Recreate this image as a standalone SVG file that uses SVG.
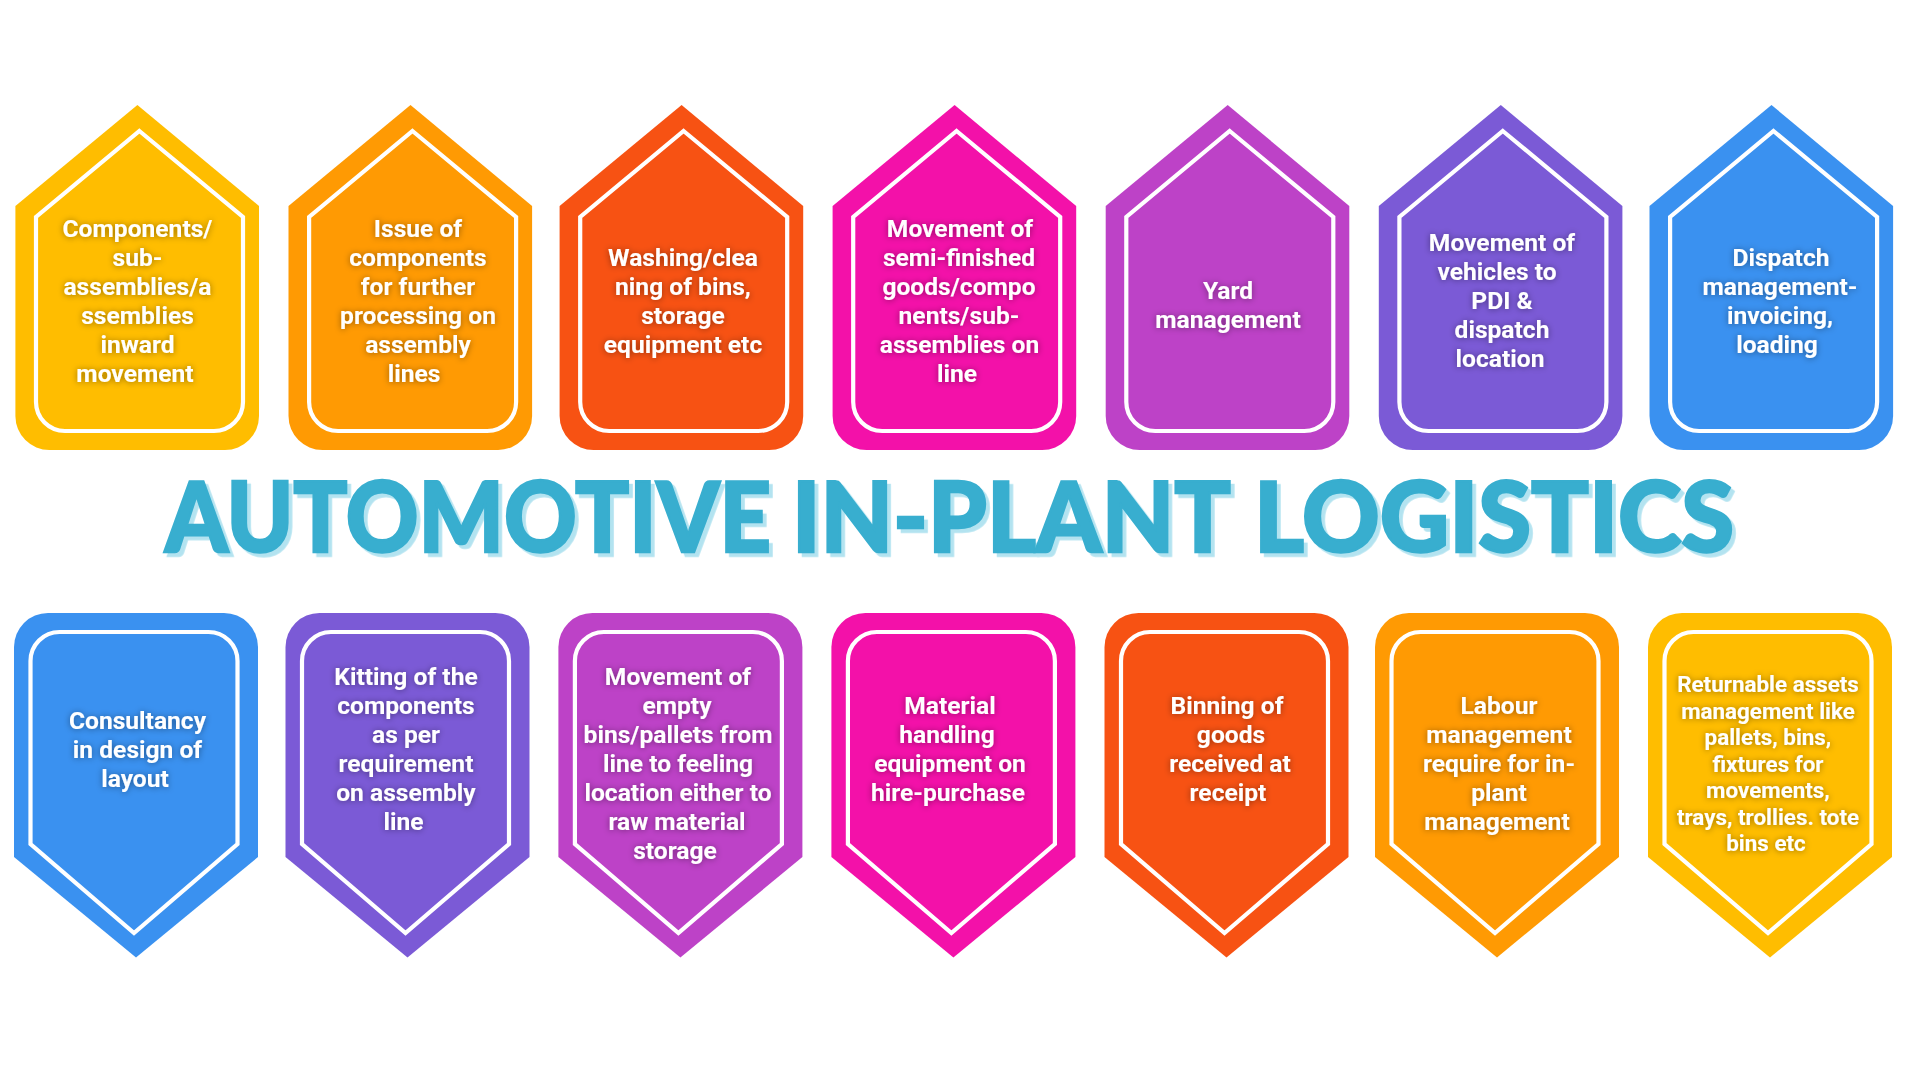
<svg xmlns="http://www.w3.org/2000/svg" xmlns:xlink="http://www.w3.org/1999/xlink" width="1920" height="1078" viewBox="0 0 1920 1078">
<style>
.in{fill:none;stroke:#fff;stroke-width:4.2}
.t{font-family:Roboto,"Liberation Sans",sans-serif;font-weight:700;font-size:24.6px;fill:#fff;text-anchor:middle;filter:url(#glow)}
.s{font-size:22.4px}
.title{font-family:Lato,"Liberation Sans",sans-serif;font-weight:900;font-size:98px;fill:#38AECF;stroke:#38AECF;stroke-width:2.5}
.yellow{fill:#FFBD00}.orange{fill:#FF9A03}.red{fill:#F75213}.pink{fill:#F311A9}.purple{fill:#BD42C7}.violet{fill:#7B5AD6}.blue{fill:#3A91F0}
</style>
<defs>
<filter id="glow" x="-20%" y="-20%" width="140%" height="140%"><feDropShadow dx="0" dy="0.5" stdDeviation="3" flood-color="#000" flood-opacity="0.42"/></filter>
<filter id="tshadow" x="-2%" y="-10%" width="104%" height="125%" color-interpolation-filters="sRGB"><feDropShadow dx="3.8" dy="3.8" stdDeviation="0" flood-color="#B3E3F0" flood-opacity="1"/></filter>
<path id="upO" d="M122,105 L243.6,206 V416 A34,34 0 0 1 209.6,450 H34 A34,34 0 0 1 0,416 V206 Z"/>
<path id="upI" class="in" d="M124,131 L227.6,217 V402 A29,29 0 0 1 198.6,431 H49.6 A29,29 0 0 1 20.6,402 V217 Z"/>
<path id="dnO" d="M34,613 H210 A34,34 0 0 1 244,647 V857 L122,957.5 L0,857 V647 A34,34 0 0 1 34,613 Z"/>
<path id="dnI" class="in" d="M45.5,632 H194.5 A29,29 0 0 1 223.5,661 V844 L120,933 L16.5,844 V661 A29,29 0 0 1 45.5,632 Z"/>
</defs>
<rect width="1920" height="1078" fill="#fff"/>
<g id="title" filter="url(#tshadow)">
<text class="title" x="165" y="552" textLength="606" lengthAdjust="spacingAndGlyphs">AUTOMOTIVE</text>
<text class="title" x="792" y="552" textLength="439" lengthAdjust="spacingAndGlyphs">IN-PLANT</text>
<text class="title" x="1254" y="552" textLength="480" lengthAdjust="spacingAndGlyphs">LOGISTICS</text>
</g>
<g id="n1"><use href="#upO" x="15.4" class="yellow"/><use href="#upI" x="15.4"/><text class="t"><tspan x="137.5" y="236.5">Components/</tspan><tspan x="137.5" y="265.5">sub-</tspan><tspan x="137.5" y="294.5">assemblies/a</tspan><tspan x="137.5" y="323.5">ssemblies</tspan><tspan x="137.5" y="352.5">inward</tspan><tspan x="135" y="381.5">movement</tspan></text></g>
<g id="n2"><use href="#upO" x="288.5" class="orange"/><use href="#upI" x="288.5"/><text class="t"><tspan x="418" y="236.5">Issue of</tspan><tspan x="418" y="265.5">components</tspan><tspan x="418" y="294.5">for further</tspan><tspan x="418" y="323.5">processing on</tspan><tspan x="418" y="352.5">assembly</tspan><tspan x="414" y="381.5">lines</tspan></text></g>
<g id="n3"><use href="#upO" x="559.6" class="red"/><use href="#upI" x="559.6"/><text class="t"><tspan x="683" y="265.5">Washing/clea</tspan><tspan x="683" y="294.5">ning of bins,</tspan><tspan x="683" y="323.5">storage</tspan><tspan x="683" y="352.5">equipment etc</tspan></text></g>
<g id="n4"><use href="#upO" x="832.6" class="pink"/><use href="#upI" x="832.6"/><text class="t"><tspan x="960" y="236.5">Movement of</tspan><tspan x="959" y="265.5">semi-finished</tspan><tspan x="959" y="294.5">goods/compo</tspan><tspan x="959" y="323.5">nents/sub-</tspan><tspan x="959.5" y="352.5">assemblies on</tspan><tspan x="957" y="381.5">line</tspan></text></g>
<g id="n5"><use href="#upO" x="1105.7" class="purple"/><use href="#upI" x="1105.7"/><text class="t"><tspan x="1228" y="299">Yard</tspan><tspan x="1228" y="328">management</tspan></text></g>
<g id="n6"><use href="#upO" x="1378.8" class="violet"/><use href="#upI" x="1378.8"/><text class="t"><tspan x="1502" y="251">Movement of</tspan><tspan x="1497" y="280">vehicles to</tspan><tspan x="1502" y="309">PDI &amp;</tspan><tspan x="1502" y="338">dispatch</tspan><tspan x="1500" y="367">location</tspan></text></g>
<g id="n7"><use href="#upO" x="1649.5" class="blue"/><use href="#upI" x="1649.5"/><text class="t"><tspan x="1781" y="265.5">Dispatch</tspan><tspan x="1780" y="294.5">management-</tspan><tspan x="1780" y="323.5">invoicing,</tspan><tspan x="1777" y="352.5">loading</tspan></text></g>
<g id="n8"><use href="#dnO" x="14" class="blue"/><use href="#dnI" x="14"/><text class="t"><tspan x="137.5" y="729">Consultancy</tspan><tspan x="137.5" y="758">in design of</tspan><tspan x="135" y="787">layout</tspan></text></g>
<g id="n9"><use href="#dnO" x="285.5" class="violet"/><use href="#dnI" x="285.5"/><text class="t"><tspan x="406" y="684.5">Kitting of the</tspan><tspan x="406" y="713.5">components</tspan><tspan x="406" y="742.5">as per</tspan><tspan x="406" y="771.5">requirement</tspan><tspan x="406" y="800.5">on assembly</tspan><tspan x="403.5" y="829.5">line</tspan></text></g>
<g id="n10"><use href="#dnO" x="558.4" class="purple"/><use href="#dnI" x="558.4"/><text class="t"><tspan x="678" y="684.5">Movement of</tspan><tspan x="677" y="713.5">empty</tspan><tspan x="678" y="742.5">bins/pallets from</tspan><tspan x="678" y="771.5">line to feeling</tspan><tspan x="678" y="800.5">location either to</tspan><tspan x="677" y="829.5">raw material</tspan><tspan x="675" y="858.5">storage</tspan></text></g>
<g id="n11"><use href="#dnO" x="831.4" class="pink"/><use href="#dnI" x="831.4"/><text class="t"><tspan x="950" y="714">Material</tspan><tspan x="947" y="743">handling</tspan><tspan x="950" y="772">equipment on</tspan><tspan x="948" y="801">hire-purchase</tspan></text></g>
<g id="n12"><use href="#dnO" x="1104.5" class="red"/><use href="#dnI" x="1104.5"/><text class="t"><tspan x="1227" y="714">Binning of</tspan><tspan x="1231" y="743">goods</tspan><tspan x="1230" y="772">received at</tspan><tspan x="1228" y="801">receipt</tspan></text></g>
<g id="n13"><use href="#dnO" x="1375" class="orange"/><use href="#dnI" x="1375"/><text class="t"><tspan x="1499" y="714">Labour</tspan><tspan x="1499" y="743">management</tspan><tspan x="1499" y="772">require for in-</tspan><tspan x="1499" y="801">plant</tspan><tspan x="1497" y="830">management</tspan></text></g>
<g id="n14"><use href="#dnO" x="1648" class="yellow"/><use href="#dnI" x="1648"/><text class="t s"><tspan x="1768" y="692">Returnable assets</tspan><tspan x="1768" y="718.5">management like</tspan><tspan x="1768" y="745">pallets, bins,</tspan><tspan x="1768" y="771.5">fixtures for</tspan><tspan x="1768" y="798">movements,</tspan><tspan x="1768" y="824.5">trays, trollies. tote</tspan><tspan x="1766" y="851">bins etc</tspan></text></g>
</svg>
